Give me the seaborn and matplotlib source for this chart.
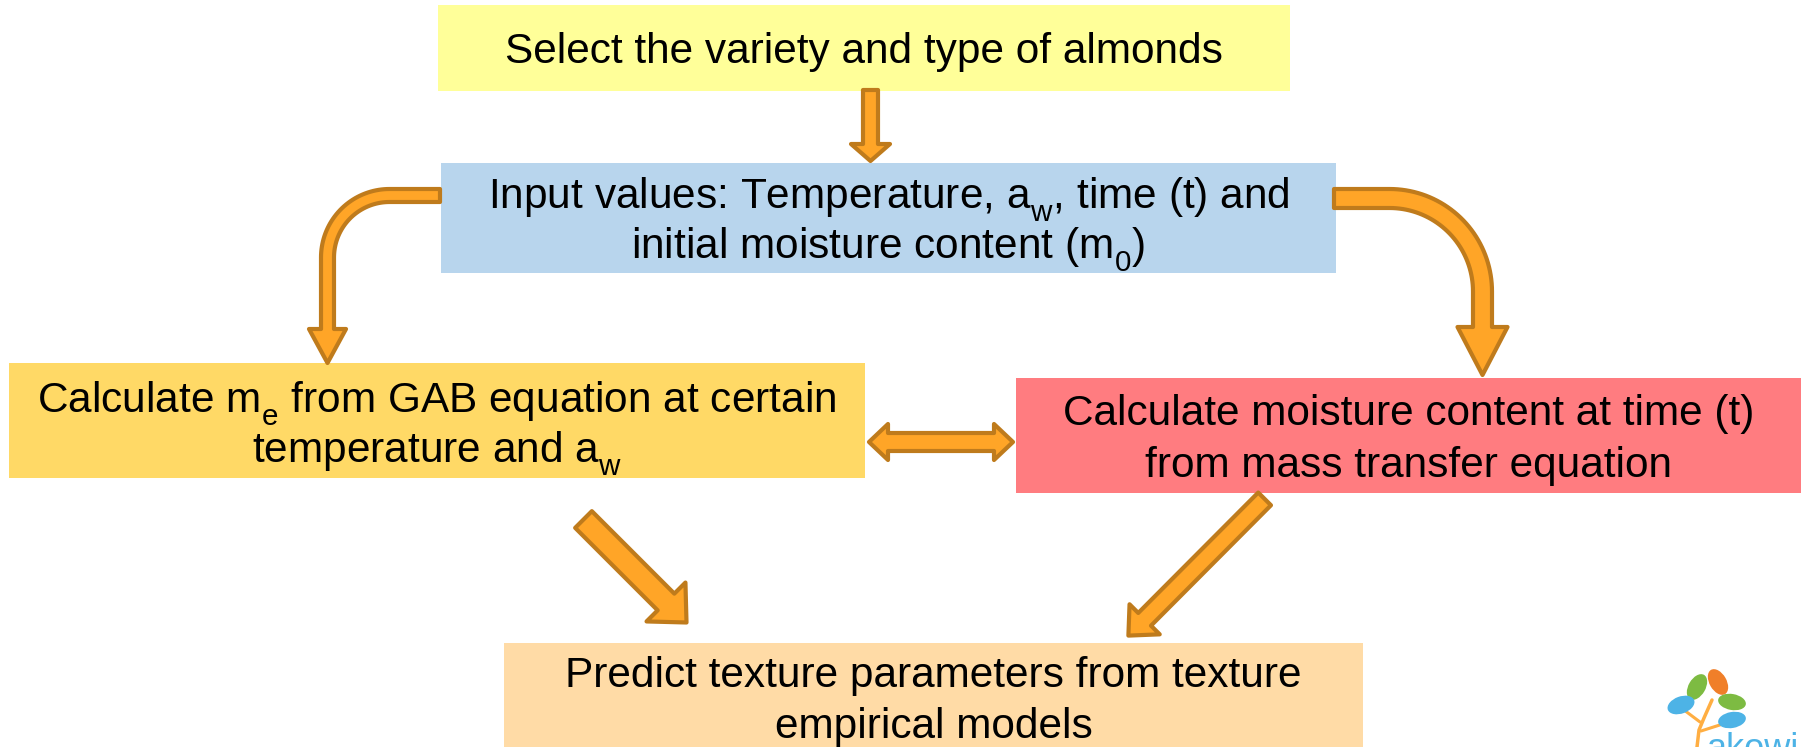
"""
Schema du modele de prediction de texture des amandes (flowchart).
"""

import matplotlib

matplotlib.use("Agg")
import matplotlib.pyplot as plt
import numpy as np
import seaborn as sns
from matplotlib.patches import Ellipse, Polygon, Rectangle

sns.set_theme(style="white")
plt.rcParams["font.family"] = ["Liberation Sans", "DejaVu Sans"]
plt.rcParams["mathtext.fontset"] = "custom"
plt.rcParams["mathtext.rm"] = "Liberation Sans"
plt.rcParams["mathtext.it"] = "Liberation Sans"

# indices plus bas, comme dans PowerPoint
try:
    from matplotlib import _mathtext

    _mathtext.FontConstantsBase.subdrop = 0.9
    _mathtext.FontConstantsBase.sub1 = 0.6
except (ImportError, AttributeError):
    pass

# -- Contenu des etapes --------------------------------------------------------
step_lines = [
    ["Select the variety and type of almonds"],
    [
        "Input values: Temperature, $\\mathregular{a_w}$, time (t) and",
        "initial moisture content ($\\mathregular{m_0}$)",
    ],
    [
        "Calculate $\\mathregular{m_e}$ from GAB equation at certain",
        "temperature and $\\mathregular{a_w}$",
    ],
    ["Calculate moisture content at time (t)", "from mass transfer equation"],
    ["Predict texture parameters from texture", "empirical models"],
]
step_colors = ["#FFFF99", "#B8D5ED", "#FFD966", "#FF7C80", "#FFDBA6"]
logo_text = "akowi"

# -- Mise en page (pixels, origine en haut a gauche) ---------------------------
W, H = 1804, 747
box_rects = [
    (438, 5, 852, 86),
    (441, 163, 895, 110),
    (9, 363, 856, 115),
    (1016, 378, 785, 115),
    (504, 643, 859, 120),
]
box_baselines = [[63], [208, 258], [412, 462], [425, 477], [687, 738]]

ARROW_FILL = "#FFA527"
ARROW_EDGE = "#BF7B1C"
ARROW_LW = 3.0
FONT_SIZE = 30.5


def straight_arrow(ax, tail, tip, shaft_hw, head_hw, head_len, double=False):
    tail = np.asarray(tail, float)
    tip = np.asarray(tip, float)
    d = tip - tail
    length = np.hypot(*d)
    u = d / length
    n = np.array([-u[1], u[0]])

    def p(s, t):
        return tail + s * u + t * n

    if double:
        pts = [
            p(0, 0), p(head_len, head_hw), p(head_len, shaft_hw),
            p(length - head_len, shaft_hw), p(length - head_len, head_hw),
            p(length, 0), p(length - head_len, -head_hw),
            p(length - head_len, -shaft_hw), p(head_len, -shaft_hw),
            p(head_len, -head_hw),
        ]
    else:
        pts = [
            p(0, shaft_hw), p(length - head_len, shaft_hw),
            p(length - head_len, head_hw), p(length, 0),
            p(length - head_len, -head_hw), p(length - head_len, -shaft_hw),
            p(0, -shaft_hw),
        ]
    ax.add_patch(Polygon(pts, closed=True, fc=ARROW_FILL, ec=ARROW_EDGE,
                         lw=ARROW_LW, joinstyle="round", zorder=3))


def curved_arrow(ax, x_start, y_mid, x_col, r, hw, head_base, tip_y, head_hw):
    # fleche coudee : horizontale, quart de cercle, puis verticale vers le bas
    s = 1.0 if x_col > x_start else -1.0
    cx, cy = x_col - s * r, y_mid + r
    t = np.linspace(0, np.pi / 2, 40)
    outer = np.column_stack([cx + s * (r + hw) * np.sin(t), cy - (r + hw) * np.cos(t)])
    inner = np.column_stack([cx + s * (r - hw) * np.sin(t), cy - (r - hw) * np.cos(t)])
    pts = [(x_start, y_mid - hw)]
    pts += list(map(tuple, outer))
    pts += [
        (x_col + s * hw, head_base), (x_col + s * head_hw, head_base),
        (x_col, tip_y),
        (x_col - s * head_hw, head_base), (x_col - s * hw, head_base),
    ]
    pts += list(map(tuple, inner[::-1]))
    pts += [(x_start, y_mid + hw)]
    ax.add_patch(Polygon(pts, closed=True, fc=ARROW_FILL, ec=ARROW_EDGE,
                         lw=ARROW_LW, joinstyle="round", zorder=3))


fig = plt.figure(figsize=(W / 100, H / 100), dpi=100)
ax = fig.add_axes([0, 0, 1, 1])
ax.set_xlim(0, W)
ax.set_ylim(H, 0)
ax.axis("off")

# -- Boites et textes ----------------------------------------------------------
for (x, y, w, h), color, lines, bases in zip(box_rects, step_colors, step_lines, box_baselines):
    ax.add_patch(Rectangle((x, y), w, h, fc=color, ec="none", zorder=1))
    for line, yb in zip(lines, bases):
        ax.text(x + w / 2, yb, line, ha="center", va="baseline",
                fontsize=FONT_SIZE, color="black", zorder=4)

# -- Fleches -------------------------------------------------------------------
straight_arrow(ax, (870.5, 90), (870.5, 161), 7.5, 19.5, 17)
curved_arrow(ax, 440, 195.5, 327.5, 62, 6.5, 329, 363, 18.5)
curved_arrow(ax, 1334, 198.5, 1482.5, 93, 9.5, 327, 375, 25)
straight_arrow(ax, (869, 442), (1013, 442), 9, 18, 19, double=True)
straight_arrow(ax, (583.5, 519.5), (686.5, 622.5), 11.8, 27.5, 29)
straight_arrow(ax, (1264.6, 498.9), (1128.4, 635.6), 9, 21.3, 23)

# -- Logo (coin inferieur droit) -----------------------------------------------
stem = "#FFAE42"
ax.plot([1697, 1699, 1704, 1712], [747, 730, 718, 700], color=stem, lw=2.5,
        solid_capstyle="round", zorder=2)
ax.plot([1700, 1684], [722, 710], color=stem, lw=2.2, solid_capstyle="round", zorder=2)
ax.plot([1701, 1726], [731, 723], color=stem, lw=2.2, solid_capstyle="round", zorder=2)
leaves = [
    ((1697, 687), 17, 28, 30, "#7DBB42"),
    ((1718, 682), 17, 28, -30, "#F07F29"),
    ((1681, 705), 28, 17, -20, "#4DB3E6"),
    ((1732, 702), 28, 16, 10, "#7DBB42"),
    ((1732, 720), 28, 16, -10, "#4DB3E6"),
]
for center, lw_, lh, ang, col in leaves:
    ax.add_patch(Ellipse(center, lw_, lh, angle=ang, fc=col, ec="none", zorder=3))
ax.text(1706, 759, logo_text, fontsize=26, color="#4DB3E6", ha="left", va="baseline",
        clip_on=True, zorder=3)

fig.savefig("out.png", dpi=100)
plt.close(fig)
